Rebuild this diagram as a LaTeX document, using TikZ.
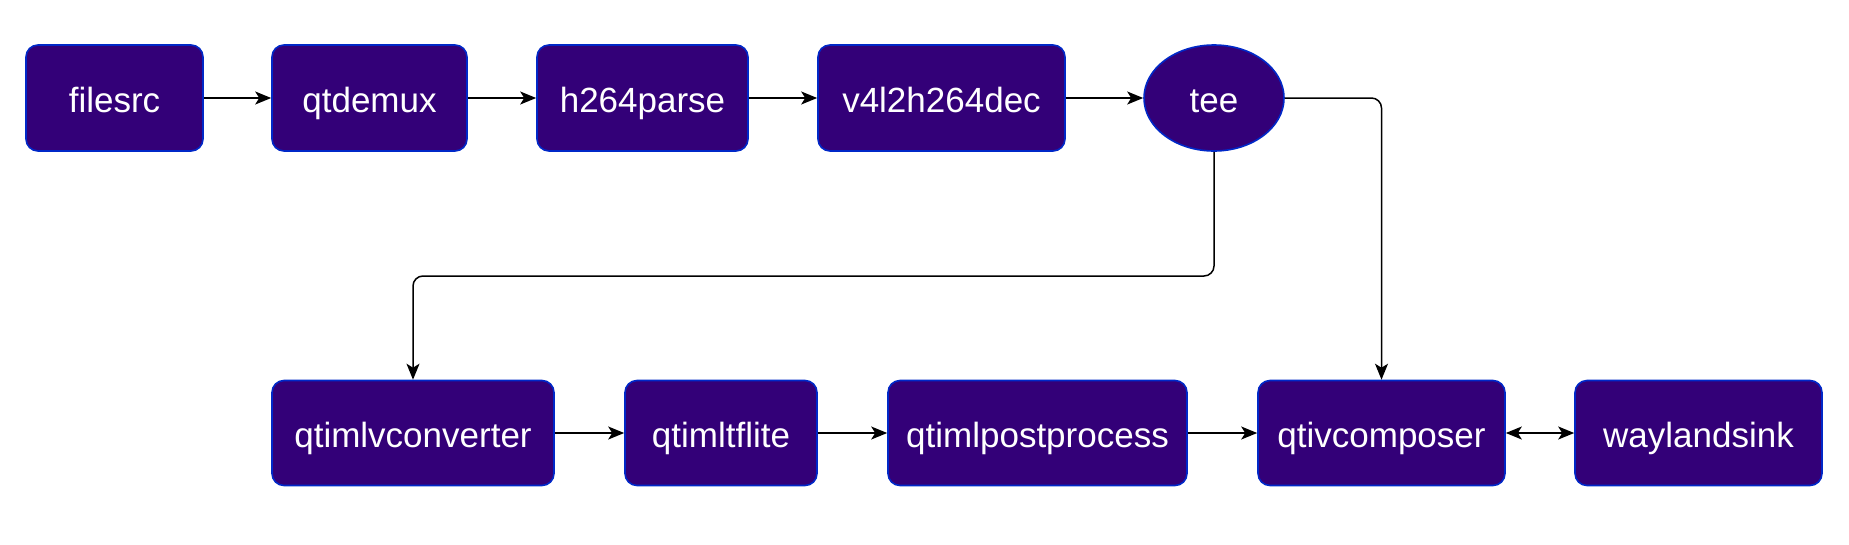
\documentclass[tikz,border=0pt]{standalone}
\usepackage{fontspec}
\setmainfont{Liberation Sans}
\usetikzlibrary{arrows.meta,shapes.geometric}
\definecolor{boxfill}{RGB}{51,0,120}
\definecolor{boxline}{RGB}{0,40,200}
\begin{document}
\begin{tikzpicture}[x=1pt,y=-1pt,
  blk/.style={draw=boxline,fill=boxfill,line width=1.6pt,rounded corners=12pt,text=white,font=\fontsize{35}{40}\selectfont,inner sep=0pt,text height=28pt,text depth=0pt,anchor=center},
  conn/.style={draw=black,line width=1.5pt,-{Stealth[length=16pt,width=13pt,inset=4pt]},rounded corners=10pt},
  dconn/.style={draw=black,line width=1.5pt,{Stealth[length=16pt,width=13pt,inset=4pt]}-{Stealth[length=16pt,width=13pt,inset=4pt]}}]
\useasboundingbox (0,0) rectangle (1849,544);
\fill[white] (0,0) rectangle (1849,544);
% row 1
\node[blk,minimum width=177pt,minimum height=106pt] (filesrc) at (114.5,98) {filesrc};
\node[blk,minimum width=195pt,minimum height=106pt] (qtdemux) at (369.5,98) {qtdemux};
\node[blk,minimum width=211pt,minimum height=106pt] (h264parse) at (642.5,98) {h264parse};
\node[blk,minimum width=247pt,minimum height=106pt] (dec) at (941.5,98) {v4l2h264dec};
\node[blk,ellipse,rounded corners=0pt,minimum width=140pt,minimum height=106pt] (tee) at (1214,98) {tee};
% row 2
\node[blk,minimum width=282pt,minimum height=105pt] (conv) at (413,433) {qtimlvconverter};
\node[blk,minimum width=192pt,minimum height=105pt] (tflite) at (721,433) {qtimltflite};
\node[blk,minimum width=299pt,minimum height=105pt] (post) at (1037.5,433) {qtimlpostprocess};
\node[blk,minimum width=247pt,minimum height=105pt] (comp) at (1381.5,433) {qtivcomposer};
\node[blk,minimum width=247pt,minimum height=105pt] (sink) at (1698.5,433) {waylandsink};
% connectors
\draw[conn] (filesrc) -- (qtdemux);
\draw[conn] (qtdemux) -- (h264parse);
\draw[conn] (h264parse) -- (dec);
\draw[conn] (dec) -- (tee);
\draw[conn] (tee.south) -- (tee.south |- 0,276) -- (conv.north |- 0,276) -- (conv.north);
\draw[conn] (tee.east) -- (comp.north |- tee.east) -- (comp.north);
\draw[conn] (conv) -- (tflite);
\draw[conn] (tflite) -- (post);
\draw[conn] (post) -- (comp);
\draw[dconn] (comp) -- (sink);
\end{tikzpicture}
\end{document}
